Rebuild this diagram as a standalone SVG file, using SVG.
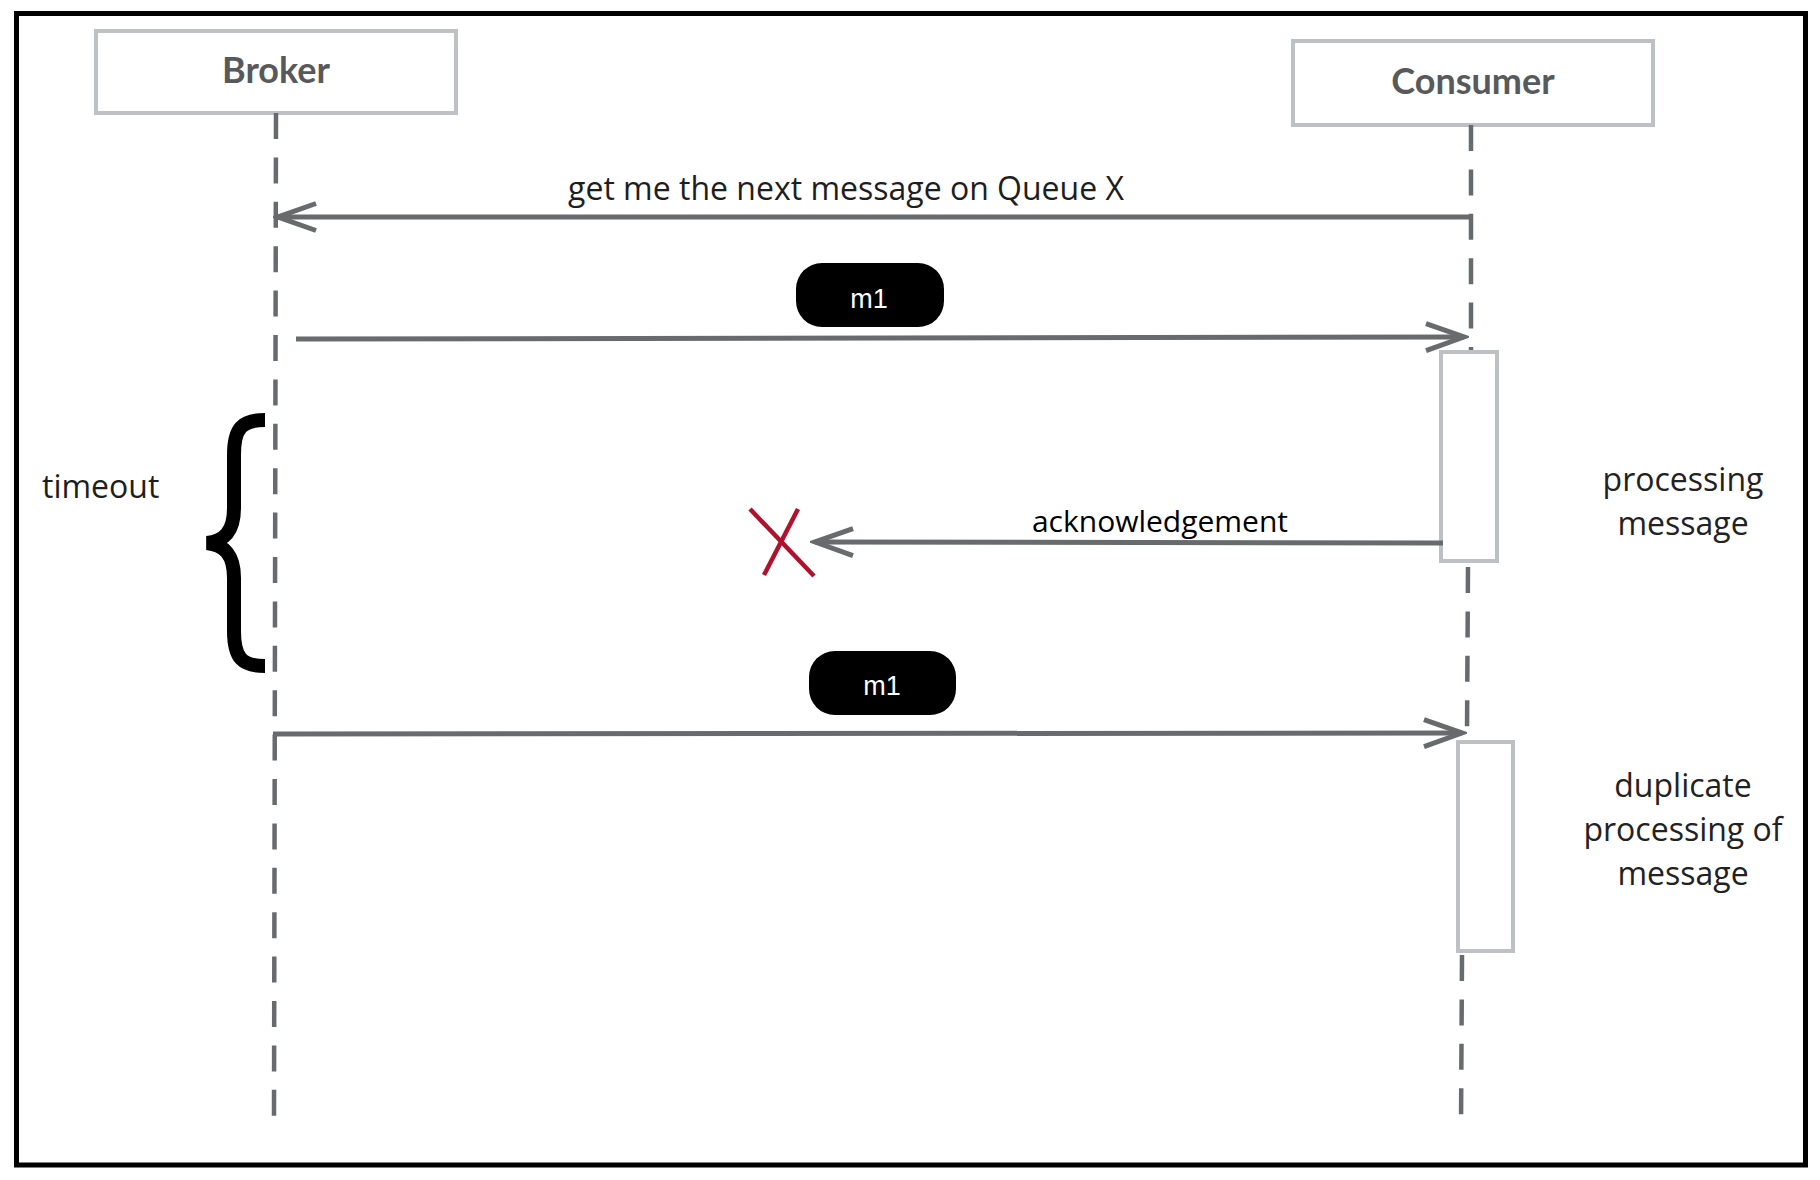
<svg xmlns="http://www.w3.org/2000/svg" width="1820" height="1180" viewBox="0 0 1820 1180">
<style>
.box{fill:#fff;stroke:#bdc1c3;stroke-width:4}
.title{font-family:Lato,"Open Sans",sans-serif;font-weight:bold;font-size:36px;fill:#58595b;text-anchor:middle}
.life{stroke:#686b6d;stroke-width:4.5;stroke-dasharray:26 18.4;fill:none}
.msg{stroke:#676b6c;stroke-width:5;fill:none;marker-end:url(#arr)}
.lbl{font-family:"Open Sans","Noto Sans",sans-serif;font-size:32px;fill:#1e1e1e}
.pill{fill:#000}
.pilltxt{font-family:"Liberation Sans",Arial,sans-serif;font-size:27px;fill:#fff;text-anchor:middle}
.note{font-family:"Open Sans","Noto Sans",sans-serif;font-size:32px;fill:#222;text-anchor:middle}
</style>
<defs>
<marker id="arr" markerUnits="userSpaceOnUse" markerWidth="50" markerHeight="40" viewBox="-45 -20 50 40" refX="0" refY="0" orient="auto">
<path d="M -38 -13.5 L 0 0 L -38 13.5" fill="none" stroke="#676b6c" stroke-width="5"/>
</marker>
</defs>
<rect x="0" y="0" width="1820" height="1180" fill="#fff"/>
<rect x="16.5" y="13.5" width="1789" height="1151.5" fill="none" stroke="#000" stroke-width="5"/>

<g id="broker">
<rect class="box" x="96" y="31" width="360" height="82"/>
<text class="title" x="276" y="83">Broker</text>
<line class="life" x1="276" y1="113" x2="274" y2="1117"/>
</g>

<g id="consumer">
<rect class="box" x="1293" y="41" width="360" height="84"/>
<text class="title" x="1473" y="94">Consumer</text>
<line class="life" x1="1471" y1="125" x2="1471" y2="350"/>
<line class="life" x1="1468" y1="567" x2="1467" y2="733"/>
<line class="life" x1="1462" y1="955" x2="1461" y2="1128"/>
</g>

<g id="activation1">
<rect class="box" x="1441" y="352" width="56" height="209"/>
</g>
<g id="activation2">
<rect class="box" x="1458" y="742" width="55" height="209"/>
</g>

<g id="timeout">
<path d="M 265 420 C 242 420 234 428 234 455 L 234 508 C 234 532 224 541 207 543 C 224 545 234 554 234 578 L 234 631 C 234 658 242 666 265 666" fill="none" stroke="#000" stroke-width="14"/>
<text class="lbl" x="42" y="498">timeout</text>
</g>

<g id="connectors">
<line class="msg" x1="1471" y1="217" x2="278" y2="217"/>
<line class="msg" x1="296" y1="339" x2="1464" y2="337"/>
<line class="msg" x1="1443" y1="543" x2="815" y2="542"/>
<line class="msg" x1="273" y1="734" x2="1462" y2="733"/>
</g>

<g id="labels">
<text class="lbl" x="846" y="200" text-anchor="middle" font-size="33">get me the next message on Queue X</text>
<g id="m1a"><rect class="pill" x="796" y="263" width="148" height="64" rx="26"/><text class="pilltxt" x="869" y="308">m1</text></g>
<g id="m1b"><rect class="pill" x="809" y="651" width="147" height="64" rx="26"/><text class="pilltxt" x="882" y="695">m1</text></g>
<text x="1160" y="532" text-anchor="middle" font-family="'Open Sans','Noto Sans',sans-serif" font-size="30" fill="#000">acknowledgement</text>
</g>

<g id="lost">
<line x1="750" y1="509" x2="814" y2="576" stroke="#b0122d" stroke-width="4.5"/>
<line x1="798" y1="509" x2="764" y2="575" stroke="#b0122d" stroke-width="4.5"/>
</g>

<g id="notes">
<text class="note" x="1683" y="491">processing</text>
<text class="note" x="1683" y="535">message</text>
<text class="note" x="1683" y="797">duplicate</text>
<text class="note" x="1683" y="841">processing of</text>
<text class="note" x="1683" y="885">message</text>
</g>
</svg>
